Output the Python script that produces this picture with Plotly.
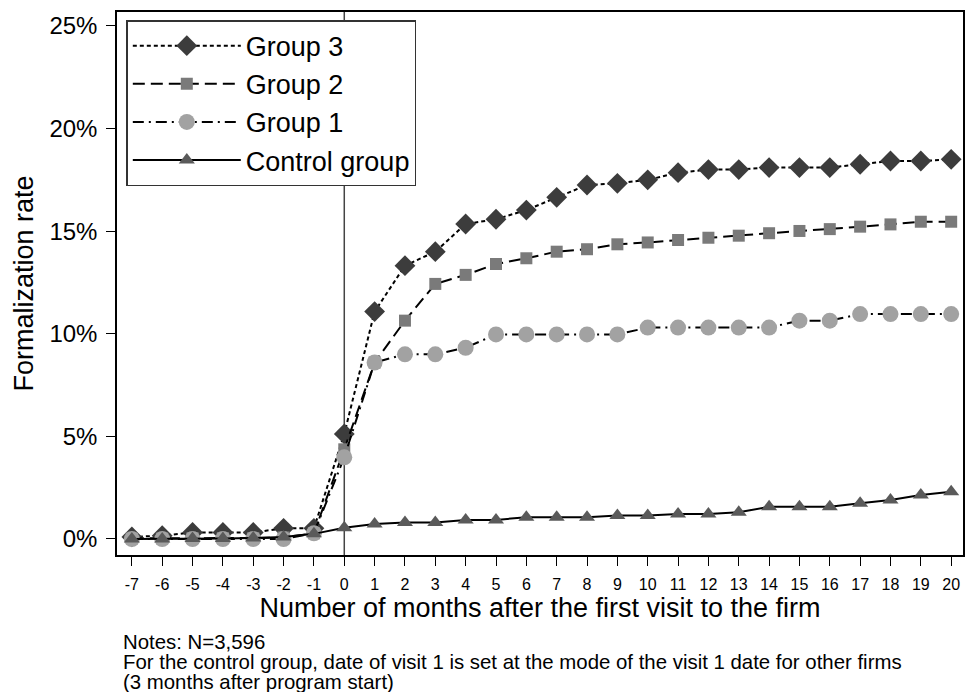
import plotly.graph_objects as go

months = list(range(-7, 21))

group3 = [0.1, 0.16, 0.32, 0.32, 0.32, 0.52, 0.52, 5.12, 11.08, 13.32, 14.0, 15.35, 15.58, 16.03,
          16.65, 17.25, 17.33, 17.5, 17.85, 18.0, 18.0, 18.1, 18.1, 18.1, 18.26, 18.42, 18.42, 18.5]
group2 = [0.03, 0.03, 0.05, 0.05, 0.05, 0.08, 0.28, 4.37, 8.6, 10.64, 12.43, 12.87, 13.4, 13.68,
          14.0, 14.12, 14.36, 14.45, 14.57, 14.68, 14.78, 14.9, 15.01, 15.1, 15.22, 15.33, 15.46, 15.46]
group1 = [0.0, 0.0, 0.0, 0.0, 0.0, 0.0, 0.28, 3.98, 8.6, 9.0, 9.0, 9.32, 9.97, 9.97,
          9.97, 9.97, 9.97, 10.3, 10.3, 10.3, 10.3, 10.3, 10.64, 10.64, 10.96, 10.96, 10.96, 10.96]
control = [0.0, 0.0, 0.02, 0.02, 0.05, 0.1, 0.25, 0.55, 0.73, 0.8, 0.8, 0.93, 0.93, 1.06,
           1.06, 1.06, 1.14, 1.14, 1.22, 1.22, 1.3, 1.57, 1.57, 1.57, 1.74, 1.9, 2.14, 2.3]

y_ticks = [0, 5, 10, 15, 20, 25]
y_tick_labels = ["0%", "5%", "10%", "15%", "20%", "25%"]

notes = [
    "Notes: N=3,596",
    "For the control group, date of visit 1 is set at the mode of the visit 1 date for other firms",
    "(3 months after program start)",
]

series = [
    ("Group 3", group3, "4px,3px", "diamond", "#3c3c3c", 16),
    ("Group 2", group2, "12px,6px", "square", "#7a7a7a", 12),
    ("Group 1", group1, "11px,5px,2px,5px", "circle", "#a2a2a2", 16),
    ("Control group", control, "solid", "triangle-up", "#5a5a5a", 14),
]

FONT = "Liberation Sans, Arial, sans-serif"

fig = go.Figure()
for name, vals, dash, sym, col, size in series:
    fig.add_trace(go.Scatter(
        x=months, y=vals, name=name, mode="lines+markers",
        legendgroup=name,
        line=dict(color="black", width=2, dash=dash),
        marker=dict(symbol=sym, color=col, size=size, line=dict(width=0)),
    ))

fig.add_shape(type="line", xref="x", yref="paper", x0=0, x1=0, y0=0, y1=1,
              line=dict(color="#444444", width=1.5), layer="below")

fig.update_layout(
    width=966, height=692,
    margin=dict(l=117, r=1, t=12, b=137),
    paper_bgcolor="white", plot_bgcolor="white",
    font=dict(family=FONT, color="black"),
    showlegend=True,
    legend=dict(
        x=0.011, y=0.985, xanchor="left", yanchor="top",
        bgcolor="white", bordercolor="#333333", borderwidth=1.5,
        font=dict(size=27, family=FONT),
        traceorder="grouped", tracegroupgap=0, itemwidth=108,
    ),
    xaxis=dict(
        range=[-7.49, 20.39], tickmode="array", tickvals=months,
        ticktext=[str(m) for m in months],
        ticks="outside", ticklen=9, tickcolor="black", tickwidth=1.2,
        showline=True, linecolor="black", linewidth=1.5, mirror=True,
        showgrid=False, zeroline=False,
        tickfont=dict(size=16), ticklabelstandoff=5,
        title=dict(text="Number of months after the first visit to the firm",
                   font=dict(size=27), standoff=2),
    ),
    yaxis=dict(
        range=[-0.78, 25.68], tickmode="array", tickvals=y_ticks,
        ticktext=y_tick_labels,
        ticks="outside", ticklen=9, tickcolor="black", tickwidth=1.2,
        showline=True, linecolor="black", linewidth=1.5, mirror=True,
        showgrid=False, zeroline=False,
        tickfont=dict(size=24), ticklabelstandoff=4,
        title=dict(text="Formalization rate", font=dict(size=27), standoff=8),
    ),
)

for line_text, ypos in zip(notes, [-0.160, -0.197, -0.233]):
    fig.add_annotation(
        xref="paper", yref="paper", x=0.005, y=ypos, xanchor="left", yanchor="middle",
        align="left", showarrow=False, text=line_text,
        font=dict(size=20.4),
    )

fig.write_html(
    "out.html",
    config={"displayModeBar": False},
    post_script="document.body.style.margin='0';document.body.style.overflow='hidden';",
)
